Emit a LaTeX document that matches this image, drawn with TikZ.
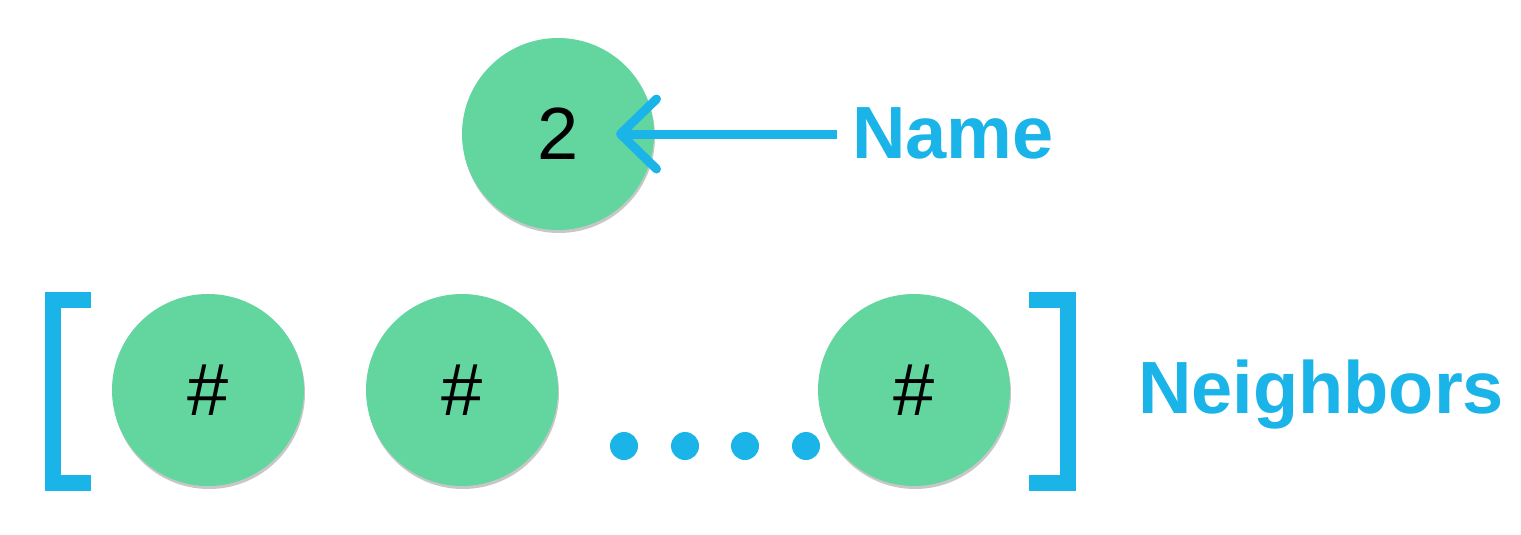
\documentclass[tikz,border=0pt]{standalone}
\usepackage{fontspec}
\setmainfont{Liberation Sans}
\usepackage{tikz}
\usetikzlibrary{arrows.meta,shadows}

\definecolor{nodegreen}{HTML}{63D69F}
\definecolor{labelblue}{HTML}{1AB4E8}

\begin{document}
\begin{tikzpicture}[x=1pt, y=-1pt,
    vertex/.style={circle, fill=nodegreen, minimum size=192pt, inner sep=0pt,
      font=\fontsize{74}{80}\selectfont,
      drop shadow={shadow xshift=1pt, shadow yshift=-3pt, opacity=0.22, fill=black}},
    dotnode/.style={circle, fill=labelblue, minimum size=28pt, inner sep=0pt},
    caption/.style={text=labelblue, inner sep=0pt, anchor=base west,
      font=\fontsize{74}{80}\selectfont\bfseries},
    bracket/.style={draw=labelblue, line width=16pt, miter limit=10}]
   \useasboundingbox (0,0) rectangle (1521,535);

   \node[vertex] (name) at (558,134) {2};
   \node[vertex] (n1) at (208,390) {\#};
   \node[vertex] (n2) at (462,390) {\#};

   \node[dotnode] (d1) at (624,446) {};
   \node[dotnode] (d2) at (685,446) {};
   \node[dotnode] (d3) at (745,446) {};
   \node[dotnode] (d4) at (806,446) {};

   \node[vertex] (n3) at (914,390) {\#};

   \node[caption] (lblname) at (852,158) {Name};
   \node[caption] (lblnbrs) at (1138,413) {Neighbors};
   \coordinate (tail) at (837,134);
   \coordinate (tip) at (616,134);

   % brackets round the neighbor list
   \draw[bracket] (91,300) -- (53,300) -- (53,483) -- (91,483);
   \draw[bracket] (1029,300) -- (1068,300) -- (1068,483) -- (1029,483);

   \path[-{Straight Barb[length=36pt 0, width=70pt 0, round]}]
     (tail) edge[draw=labelblue, line width=9pt] (tip);
\end{tikzpicture}
\end{document}
